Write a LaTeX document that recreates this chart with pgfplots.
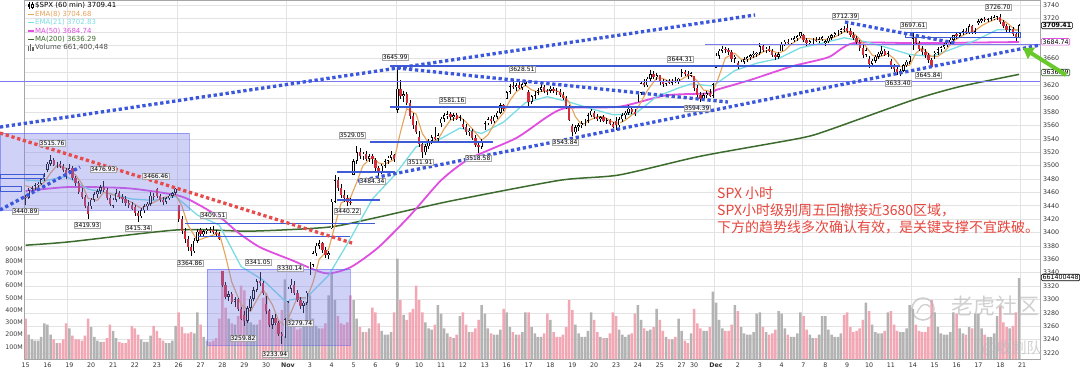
\documentclass[border=0pt]{standalone}
\usepackage{pgfplots}
\pgfplotsset{compat=1.18}
\usepackage{pgfplotstable}
\usepackage{fontspec}
\setmainfont{DejaVu Sans}
\newfontfamily\cjk{Noto Sans CJK SC}
\usetikzlibrary{arrows.meta}

\definecolor{trendblue}{HTML}{3B57DC}
\definecolor{lineblue}{HTML}{3F5BD6}
\definecolor{lavline}{HTML}{7B7BEF}
\definecolor{boxfill}{HTML}{7C80EA}
\definecolor{trendred}{HTML}{E84B4B}
\definecolor{candred}{HTML}{D22B3A}
\definecolor{volgray}{HTML}{B3B3B3}
\definecolor{volpink}{HTML}{F2A7B5}
\definecolor{emaA}{HTML}{E6A35A}
\definecolor{emaB}{HTML}{79DDE6}
\definecolor{maC}{HTML}{E04FE0}
\definecolor{maD}{HTML}{3C6B2E}
\definecolor{cnred}{HTML}{E6453C}
\definecolor{arrowgreen}{HTML}{67C92A}

\pgfplotstableread{
o h l c v
3453 3456 3440.89 3452 330
3452 3466 3450 3463 200
3463 3470 3459 3466 160
3466 3474 3464 3471 150
3471 3476 3467 3473 150
3473 3482 3471 3480 180
3480 3489 3477 3483.3 290
3493.5 3506 3490 3503 280
3503 3515.76 3500 3508 200
3508 3511 3499 3501 160
3501 3505 3496 3503 130
3503 3507 3497 3499 130
3499 3502 3490 3494 160
3494 3497 3480.45 3483.8 290
3493.7 3502.4 3488 3496 250
3496 3499 3478 3481 190
3481 3485 3470 3474 160
3474 3477 3458 3461 160
3461 3466 3450 3453 150
3453 3456 3436 3440 190
3440 3445 3419.93 3426.9 330
3439.4 3452 3435.65 3449 260
3449 3460 3446 3457 180
3457 3465 3452 3462 150
3462 3471 3458 3468 140
3468 3476.93 3460 3463 140
3463 3466 3448 3452 170
3452 3456 3440 3443.1 280
3439.9 3452 3436 3449 230
3449 3464.86 3446 3459 170
3459 3462 3450 3453 140
3453 3457 3444 3450 130
3450 3454 3440 3444 130
3444 3449 3437 3441 160
3441 3445 3433.06 3435.6 270
3438.5 3441 3425 3429 250
3429 3432 3415.34 3424 200
3424 3436 3421 3433 160
3433 3442 3429 3439 140
3439 3446 3434 3443 140
3443 3460.53 3440 3455 190
3455 3459 3448 3453.5 270
3464.9 3466.46 3452 3455 230
3455 3458 3445 3449 170
3449 3453 3440.45 3446 150
3446 3453 3443 3451 130
3451 3458 3448 3455 130
3455 3461 3452 3459 150
3459 3466 3456 3465.4 270
3441.4 3441.4 3416 3420 380
3420 3425 3398 3402 260
3402 3407 3385 3390 210
3390 3394 3372 3378 210
3378 3383 3364.86 3372 220
3372 3392 3369 3388 210
3388 3405 3385 3401 380
3403.2 3406 3393 3397 280
3397 3404 3394 3402 180
3402 3406 3397 3404 150
3404 3408 3399 3403 140
3403 3409.51 3398 3401 150
3401 3404 3393 3397 170
3397 3400 3388.71 3390.7 330
3342.5 3342.5 3318 3322 720
3322 3326 3300 3304 420
3304 3313 3298 3308 330
3308 3311 3293 3296 290
3296 3303 3288 3300 280
3300 3302 3282 3285 350
3285 3288 3268.89 3271 600
3277.2 3282 3259.82 3268 560
3268 3290 3264 3287 380
3287 3305 3283 3301 300
3301 3318 3297 3314 280
3314 3330 3311 3327 280
3327 3341.05 3320 3325 320
3325 3328 3306 3310.1 500
3293.6 3304.93 3278 3282 540
3282 3286 3258 3262 400
3262 3276 3255 3272 320
3272 3278 3262 3265 280
3265 3268 3245 3248 320
3248 3252 3233.94 3245 400
3245 3272 3242 3270 650
3296.2 3318 3294 3316 480
3316 3330.14 3310 3322 330
3322 3327 3306 3310 260
3310 3314 3296 3299 240
3299 3304 3285 3290 250
3290 3298 3279.74 3295 290
3295 3312 3292 3310.2 470
3336.3 3356 3336.25 3352 520
3352 3372 3349 3369 330
3369 3384 3365 3380 270
3380 3389.49 3376 3384 250
3384 3386 3370 3374 250
3374 3378 3362 3366 290
3366 3372 3360 3369.2 520
3406.5 3450 3405.17 3446 700
3446 3486.25 3444 3478 480
3478 3483 3462 3466 350
3466 3472 3452 3456 290
3456 3463 3446 3451 280
3451 3456 3440.22 3446 300
3446 3452 3441 3443.4 520
3485.8 3510 3485.74 3507 480
3507 3529.05 3503 3520 330
3520 3526 3510 3514 260
3514 3521 3508 3518 220
3518 3522 3507 3510 220
3510 3518 3505 3514 250
3514 3517 3503 3510.5 420
3508.3 3512 3492 3496 380
3496 3500 3484.34 3490 290
3490 3503 3488 3500 230
3500 3510 3497 3507 200
3507 3515 3503 3512 200
3512 3521.58 3508 3516 220
3516 3518 3505 3509.4 380
3583 3645.99 3578 3615 820
3615 3628 3600 3604 480
3604 3612 3595 3607 360
3607 3610 3590 3594 320
3594 3598 3570 3574 380
3574 3578 3555 3560 410
3560 3566 3547.48 3550.5 600
3543.3 3552 3528 3532 480
3532 3536 3511.91 3520 380
3520 3532 3516 3529 300
3529 3540 3525 3537 250
3537 3546 3532 3542 240
3542 3557.22 3538 3540 280
3540 3548 3536 3545.5 440
3563.2 3573 3557 3570 370
3570 3578 3565 3575 250
3575 3581.16 3570 3577 210
3577 3580 3568 3572 180
3572 3578 3567 3575 170
3575 3579 3568 3570 200
3570 3576 3566 3572.7 350
3562.7 3569.02 3555 3558 380
3558 3562 3546 3550 280
3550 3556 3544 3552 220
3552 3555 3538 3541 220
3541 3545 3528 3531 250
3531 3536 3518.58 3528 320
3528 3540 3525 3537 440
3552.6 3566 3552.57 3563 370
3563 3572 3560 3569 250
3569 3574 3562 3566 210
3566 3576 3563 3573 200
3573 3582 3570 3579 200
3579 3593.66 3577 3590 240
3590 3592 3582 3585.2 410
3600.2 3612 3600.16 3610 380
3610 3622 3607 3619 260
3619 3628.51 3614 3617 220
3617 3623 3612 3620 200
3620 3625 3614 3616 200
3616 3624 3613 3622 220
3622 3628 3619 3626.9 380
3610.3 3613 3588.68 3595 380
3595 3606 3592 3604 260
3604 3612 3600 3609 210
3609 3616 3605 3613 180
3613 3623.11 3610 3617 180
3617 3620 3608 3611 210
3611 3615 3605 3609.5 370
3612.1 3619.09 3608 3615 320
3615 3618 3609 3612 220
3612 3616 3606 3610 180
3610 3614 3603 3606 180
3606 3610 3598 3601 200
3601 3604 3584 3588 260
3588 3591 3567.33 3567.8 480
3559.4 3562 3543.84 3550 400
3550 3560 3547 3557 280
3557 3563 3552 3560 210
3560 3566 3556 3563 180
3563 3570 3559 3567 180
3567 3578 3564 3575 230
3575 3585.22 3572 3581.9 380
3579.3 3581.23 3570 3573 320
3573 3577 3566 3570 220
3570 3574 3565 3572 180
3572 3575 3565 3567 170
3567 3571 3562 3568 170
3568 3570 3560 3562 210
3562 3565 3556.85 3557.5 380
3566.8 3572 3552.77 3560 350
3560 3572 3557 3569 240
3569 3578 3565 3575 200
3575 3582 3570 3579 180
3579 3589.81 3576 3585 200
3585 3588 3577 3580 210
3580 3584 3574 3577.6 370
3594.6 3612 3594.52 3609 440
3609 3626 3606 3623 320
3623 3630 3617 3620 250
3620 3633 3618 3630 230
3630 3642.31 3627 3637 240
3637 3641 3629 3632 260
3632 3638 3628 3635.4 410
3635.5 3635.5 3621 3625 320
3625 3629 3617.76 3622 230
3622 3628 3619 3626 180
3626 3630 3622 3624 160
3624 3629 3620 3627 160
3627 3632 3623 3625 180
3625 3631 3622 3629.7 330
3638.6 3644.31 3632 3640 230
3640 3643 3634 3637 150
3637 3641 3629.33 3634 130
3634 3640 3632 3638.4 210
3634.2 3634.2 3612 3616 410
3616 3620 3602 3606 290
3606 3610 3594.39 3600 250
3600 3608 3597 3605 230
3605 3612 3601 3608 230
3608 3614 3602 3604 260
3604 3623 3601 3621.6 550
3645.9 3668 3645.87 3664 460
3664 3675 3660 3672 320
3672 3678.45 3668 3675 250
3675 3677 3669 3673 230
3673 3676 3665 3670 230
3670 3673 3655 3660 280
3660 3666 3654 3662.5 440
3653.8 3656 3644.84 3650 390
3650 3658 3647 3655 260
3655 3662 3652 3659 210
3659 3664 3655 3662 200
3662 3667 3658 3665 200
3665 3670.96 3661 3667 220
3667 3670 3663 3669 370
3668.3 3682.73 3666 3678 380
3678 3681 3670 3673 260
3673 3677 3668 3675 220
3675 3679 3670 3672 200
3672 3675 3662 3665 210
3665 3669 3657.17 3663 240
3663 3670 3660 3666.7 390
3671 3684 3670.94 3681 370
3681 3688 3678 3685 250
3685 3689 3680 3683 200
3683 3690 3680 3688 180
3688 3693 3684 3690 180
3690 3695 3686 3693 210
3693 3699.2 3691 3699.1 380
3694.7 3697.41 3684 3687 350
3687 3690 3678.88 3683 240
3683 3688 3680 3686 200
3686 3690 3682 3688 170
3688 3692 3684 3687 170
3687 3692 3683 3689 200
3689 3694 3686 3692 350
3683.1 3688 3678.83 3686 350
3686 3693 3683 3691 240
3691 3697 3688 3695 200
3695 3700 3692 3698 180
3698 3703 3694 3700 180
3700 3706 3697 3704 210
3704 3708.45 3699 3702.3 360
3706 3712.39 3698 3701 380
3701 3705 3692 3695 260
3695 3699 3687 3690 220
3690 3694 3680 3684 230
3684 3688 3672 3676 250
3676 3680 3660.54 3666 320
3666 3676 3662 3672.8 460
3659.1 3664 3645.18 3652 390
3652 3660 3649 3657 280
3657 3665 3654 3663 220
3663 3670 3660 3667 210
3667 3678.49 3664 3672 210
3672 3675 3664 3666 230
3666 3671 3662 3668.1 380
3656.1 3659 3645 3648 390
3648 3652 3640 3644 280
3644 3648 3636 3640 230
3640 3645 3633.4 3642 220
3642 3652 3640 3650 220
3650 3658 3647 3655 250
3655 3665.91 3652 3663.5 440
3675.3 3697.61 3673 3690 410
3690 3694 3680 3683 280
3683 3686 3672 3675 230
3675 3679 3666 3670 220
3670 3674 3661 3665 220
3665 3668 3654 3658 260
3658 3661 3645.84 3647.5 480
3666.4 3672 3659.62 3669 380
3669 3677 3666 3674 260
3674 3679 3670 3677 210
3677 3683 3674 3680 200
3680 3686 3677 3684 200
3684 3690 3681 3688 220
3688 3695.29 3686 3694.6 380
3696.3 3700 3688.57 3694 370
3694 3700 3691 3698 250
3698 3704 3695 3701 210
3701 3705 3697 3699 200
3699 3711.27 3697 3708 260
3708 3710 3697 3700 250
3700 3705 3697 3701.2 370
3713.7 3719 3710.87 3716 370
3716 3721 3713 3719 250
3719 3722 3715 3717 200
3717 3721 3714 3719 180
3719 3723 3716 3720 180
3720 3725.12 3717 3722 210
3722 3724 3718 3722.5 350
3722.4 3726.7 3712 3715 430
3715 3718 3705 3708 300
3708 3712 3700 3703 260
3703 3708 3698 3704 250
3704 3707 3694 3697 270
3697 3700 3685.84 3692 380
3692 3712 3690 3709.41 661
}\candles

\pgfplotsset{base/.style={at={(24pt,13pt)}, anchor=south west, scale only axis,
  width=1016pt, height=359pt, xmin=-0.5, xmax=324.7}}

\tikzset{lbl/.style={font=\fontsize{6}{6}\selectfont, fill=white, fill opacity=0.8,
  text opacity=1, draw=black!35, line width=0.3pt, inner sep=0.8pt},
  tag/.style={anchor=west, fill=white, line width=0.6pt, inner xsep=1.2pt,
  inner ysep=0.9pt, rounded corners=1.2pt, font=\fontsize{6.3}{7}\selectfont}}

\begin{document}
\begin{tikzpicture}
\useasboundingbox (0pt,0pt) rectangle (1080pt,372pt);
\clip (0pt,0pt) rectangle (1080pt,372pt);
\fill[white] (0pt,0pt) rectangle (1080pt,372pt);

% grid-only axis
\begin{axis}[base, ymin=3210.9, ymax=3747.5, axis line style={draw=none},
  tick style={draw=none},
  xtick={13.5,48.5,83.5,118.5,153.5,188.5,220.5,248.5,283.5,318.5},
  ytick={3220,3240,...,3740}, xticklabels={}, yticklabels={},
  xmajorgrids, ymajorgrids, grid style={color=black!11, line width=0.5pt}]
\addplot[draw=none] coordinates {(0,3500)};
\end{axis}

% volume axis
\begin{axis}[base, ymin=0, ymax=2931, axis line style={draw=none}, xtick=\empty,
  ytick={100,200,...,900},
  yticklabels={100M,200M,300M,400M,500M,600M,700M,800M,900M},
  tick style={draw=none},
  yticklabel style={font=\fontsize{6.3}{7}\selectfont, text=black!75, anchor=east,
    inner sep=0pt, xshift=-1pt}]
\addplot[ybar, bar width=2.5pt, bar shift=0pt, fill=volgray, draw=none,
  restrict expr to domain={\thisrow{c}-\thisrow{o}}{0:10000}]
  table[x expr=\coordindex, y=v]{\candles};
\addplot[ybar, bar width=2.5pt, bar shift=0pt, fill=volpink, draw=none,
  restrict expr to domain={\thisrow{c}-\thisrow{o}}{-10000:-0.0001}]
  table[x expr=\coordindex, y=v]{\candles};
\end{axis}

% price axis
\begin{axis}[base, ymin=3210.9, ymax=3747.5, clip=false,
  axis line style={draw=black!35, line width=0.5pt},
  tick style={draw=none},
  ytick={3220,3240,3260,3280,3300,3320,3340,3360,3380,3400,3420,3440,3460,3480,3500,3520,3540,3560,3580,3600,3620,3660,3720,3740},
  yticklabel pos=right,
  /pgf/number format/assume math mode=true,
  /pgf/number format/1000 sep={},
  yticklabel style={font=\fontsize{6.3}{7}\selectfont, text=black!80, anchor=west,
    inner sep=0pt, xshift=3pt},
  xtick={0,7,14,21,28,35,42,49,56,63,70,77,84,91,98,105,112,119,126,133,140,147,154,161,168,175,182,189,196,203,210,214,221,228,235,242,249,256,263,270,277,284,291,298,305,312,319},
  xticklabels={15,16,19,20,21,22,23,26,27,28,29,30,\textbf{Nov},3,4,5,6,9,10,11,12,13,16,17,18,19,20,23,24,25,27,30,\textbf{Dec},2,3,4,7,8,9,10,11,14,15,16,17,18,21},
  xticklabel style={font=\fontsize{6.3}{7}\selectfont, text=black!80, anchor=north,
    inner sep=0pt, yshift=-3.5pt}]

% moving averages
\addplot[maD, line width=1.5pt, smooth, tension=0.4] coordinates {(0,3381)(14,3386)(49,3404)(72,3402)(97,3408)(112,3422)(136,3447)(171,3478)(190,3486)(216,3514)(248,3541)(257,3553)(284,3598)(299,3618)(318,3636.3)};
\addplot[maC, line width=1.8pt, smooth, tension=0.4] coordinates {(0,3462)(14,3468)(33,3466)(49,3455)(56,3440)(63,3420)(68,3400)(75,3378)(85,3359)(96,3339)(104,3348)(113,3378)(123,3425)(133,3478)(142,3510)(157,3541)(167,3573)(173,3586)(190,3588)(205,3605)(219,3608)(221,3613)(232,3628)(245,3648)(257,3662)(265,3683)(286,3683)(318,3684.7)};
\addplot[emaB, line width=1.3pt] coordinates {(0,3478)(6,3477)(13,3484)(20,3465)(27,3458)(34,3450)(41,3448)(48,3454)(55,3426)(62,3411)(69,3349)(76,3329)(83,3298)(90,3303)(97,3336)(104,3391)(111,3450)(118,3485)(125,3528)(132,3538)(139,3556)(146,3548)(153,3565)(160,3594)(167,3603)(174,3595)(181,3585)(188,3576)(195,3577)(202,3603)(209,3616)(213,3622)(220,3619)(227,3642)(234,3653)(241,3660)(248,3676)(255,3683)(262,3691)(269,3685)(276,3676)(283,3666)(290,3663)(297,3675)(304,3687)(311,3703)(318,3702.8)};
\addplot[emaA, line width=1.1pt] coordinates {(0,3470)(3,3465)(6,3475)(8,3489)(10,3500)(13,3496)(16,3486)(18,3473)(20,3451)(23,3448)(25,3460)(27,3458)(30,3453)(34,3445)(37,3436)(41,3445)(44,3452)(48,3456)(50,3440)(52,3411)(55,3388)(58,3393)(62,3399)(64,3365)(66,3326)(69,3292)(72,3282)(74,3299)(76,3315)(79,3292)(81,3268)(83,3261)(85,3281)(87,3303)(90,3302)(92,3325)(94,3360)(97,3375)(99,3410)(101,3444)(104,3452)(106,3475)(108,3500)(111,3513)(113,3504)(115,3502)(118,3509)(120,3550)(122,3585)(125,3577)(127,3548)(129,3534)(132,3539)(134,3555)(136,3568)(139,3573)(141,3565)(143,3555)(146,3538)(148,3546)(150,3562)(153,3579)(155,3597)(157,3610)(160,3620)(162,3613)(164,3610)(167,3612)(169,3613)(171,3610)(174,3595)(176,3573)(178,3561)(181,3569)(183,3573)(185,3573)(188,3565)(190,3563)(192,3568)(195,3579)(197,3595)(199,3612)(202,3631)(204,3630)(206,3626)(209,3626)(211,3632)(213,3636)(215,3626)(217,3613)(220,3610)(222,3634)(224,3661)(227,3668)(229,3659)(231,3658)(234,3664)(236,3670)(238,3673)(241,3668)(243,3672)(245,3681)(248,3691)(250,3690)(252,3689)(255,3688)(257,3689)(259,3692)(262,3700)(264,3700)(266,3694)(269,3678)(271,3665)(273,3662)(276,3667)(278,3660)(280,3648)(283,3650)(285,3668)(287,3676)(290,3663)(292,3663)(294,3670)(297,3686)(299,3692)(301,3697)(304,3702)(306,3709)(308,3714)(311,3720)(313,3717)(315,3710)(317,3702)(318,3704.7)};

% candles: wicks
\addplot[draw=none, mark=none, error bars/.cd, y dir=plus, y explicit, error mark=none,
  error bar style={draw=black, line width=0.55pt}]
  table[x expr=\coordindex, y=l, y error plus expr=\thisrow{h}-\thisrow{l}]{\candles};
% up bodies (hollow)
\addplot[draw=none, mark=none, restrict expr to domain={\thisrow{c}-\thisrow{o}}{0:10000},
  error bars/.cd, y dir=plus, y explicit, error mark=none,
  error bar style={draw=black, line width=2.3pt}]
  table[x expr=\coordindex, y=o, y error plus expr={max(\thisrow{c}-\thisrow{o},1.2)}]{\candles};
\addplot[draw=none, mark=none, restrict expr to domain={\thisrow{c}-\thisrow{o}}{0:10000},
  error bars/.cd, y dir=plus, y explicit, error mark=none,
  error bar style={draw=white, line width=1.1pt}]
  table[x expr=\coordindex, y expr=\thisrow{o}+0.9, y error plus expr={max(\thisrow{c}-\thisrow{o}-1.8,0)}]{\candles};
% down bodies
\addplot[draw=none, mark=none, restrict expr to domain={\thisrow{c}-\thisrow{o}}{-10000:-0.0001},
  error bars/.cd, y dir=plus, y explicit, error mark=none,
  error bar style={draw=candred, line width=2.3pt}]
  table[x expr=\coordindex, y=c, y error plus expr={max(\thisrow{o}-\thisrow{c},1.2)}]{\candles};

% shaded boxes
\fill[boxfill, fill opacity=0.36] (axis cs:-8.2,3548.7) rectangle (axis cs:52.3,3433.6);
\draw[boxfill!70!blue, opacity=0.5, line width=0.6pt] (axis cs:-8.2,3548.7) rectangle (axis cs:52.3,3433.6);
\fill[boxfill, fill opacity=0.36] (axis cs:58.1,3345.4) rectangle (axis cs:103.8,3231.8);
\draw[boxfill!70!blue, opacity=0.5, line width=0.6pt] (axis cs:58.1,3345.4) rectangle (axis cs:103.8,3231.8);

% horizontal support/resistance lines
\draw[lavline, line width=1pt] (axis cs:-8.2,3626.4) -- (axis cs:324.7,3626.4);
\draw[lineblue, line width=1.8pt] (axis cs:116.6,3648.8) -- (axis cs:279.9,3648.8);
\draw[lineblue, line width=1.2pt] (axis cs:116.6,3587.5) -- (axis cs:219.1,3587.5);
\draw[lineblue, line width=1.2pt] (axis cs:110.2,3535.2) -- (axis cs:149.6,3535.2);
\draw[lineblue, line width=1.2pt] (axis cs:99.7,3490.4) -- (axis cs:118.2,3490.4);
\draw[lineblue, line width=1.2pt] (axis cs:99.7,3448.5) -- (axis cs:113.4,3448.5);
\draw[lineblue, line width=1pt] (axis cs:51,3414.1) -- (axis cs:111.8,3414.1);
\draw[lineblue, line width=1pt] (axis cs:55.2,3394.7) -- (axis cs:103.8,3394.7);
\draw[lineblue, line width=0.8pt] (axis cs:-8.2,3487.4) rectangle (axis cs:5.6,3481.4);
\draw[lineblue, line width=0.8pt] (axis cs:-8.2,3469.4) rectangle (axis cs:-1.2,3462.0);
\draw[lavline, line width=1pt] (axis cs:217.5,3681.7) -- (axis cs:324.7,3681.7);
\draw[lineblue, line width=0.8pt] (axis cs:281.5,3699.6) rectangle (axis cs:318.3,3692.2);

% trend lines
\draw[trendblue, line width=3.3pt, dash pattern=on 3.3pt off 2.7pt] (axis cs:-8.2,3557.6) -- (axis cs:233.5,3725.1);
\draw[trendblue, line width=3.3pt, dash pattern=on 3.3pt off 2.7pt] (axis cs:-8.2,3433.6) -- (axis cs:17.4,3497.8);
\draw[trendblue, line width=3.3pt, dash pattern=on 3.3pt off 2.7pt] (axis cs:106.4,3476.9) -- (axis cs:324.7,3680.2);
\draw[trendblue, line width=3.3pt, dash pattern=on 3.3pt off 2.7pt] (axis cs:118.9,3645.8) -- (axis cs:224.8,3595);
\draw[trendblue, line width=3.3pt, dash pattern=on 3.3pt off 2.7pt] (axis cs:262.3,3714.6) -- (axis cs:297.5,3683.2);
\draw[trendred, line width=3.3pt, dash pattern=on 3.3pt off 2.7pt] (axis cs:-8.2,3548.7) -- (axis cs:104.5,3384.2);

% price labels
\node[lbl] at (axis cs:8.5,3533.7) {3515.76};
\node[lbl] at (axis cs:-0.2,3432.1) {3440.89};
\node[lbl] at (axis cs:24.8,3494.9) {3476.93};
\node[lbl] at (axis cs:19.7,3411.2) {3419.93};
\node[lbl] at (axis cs:36,3406.7) {3415.34};
\node[lbl] at (axis cs:41.7,3484.4) {3466.46};
\node[lbl] at (axis cs:60,3426.1) {3409.51};
\node[lbl] at (axis cs:52.6,3354.3) {3364.86};
\node[lbl] at (axis cs:74.4,3355.8) {3341.05};
\node[lbl] at (axis cs:84.6,3346.9) {3330.14};
\node[lbl] at (axis cs:87.8,3264.7) {3279.74};
\node[lbl] at (axis cs:69.6,3242.2) {3259.82};
\node[lbl] at (axis cs:79.8,3218.3) {3233.94};
\node[lbl] at (axis cs:102.9,3432.1) {3440.22};
\node[lbl] at (axis cs:110.9,3476.9) {3484.34};
\node[lbl] at (axis cs:104.5,3545.7) {3529.05};
\node[lbl] at (axis cs:118.3,3662.3) {3645.99};
\node[lbl] at (axis cs:158.9,3644.3) {3628.51};
\node[lbl] at (axis cs:136.5,3598) {3581.16};
\node[lbl] at (axis cs:126.3,3505.3) {3511.91};
\node[lbl] at (axis cs:144.8,3511.3) {3518.58};
\node[lbl] at (axis cs:172.7,3535.2) {3543.84};
\node[lbl] at (axis cs:209.5,3659.3) {3644.31};
\node[lbl] at (axis cs:214.9,3586) {3594.39};
\node[lbl] at (axis cs:262.3,3723.6) {3712.39};
\node[lbl] at (axis cs:284.1,3710.1) {3697.61};
\node[lbl] at (axis cs:279.3,3623.4) {3633.40};
\node[lbl] at (axis cs:288.9,3635.4) {3645.84};
\node[lbl] at (axis cs:311.3,3737) {3726.70};
\end{axis}

% annotations in pixel coordinates
\begin{scope}[x=1pt, y=-1pt, shift={(0pt,372pt)}]
  % legend
  \draw[black, line width=0.5pt] (29.3,2) -- (29.3,9.5);
  \fill[black] (28.3,3.8) rectangle (30.3,7.5);
  \draw[black, line width=0.5pt] (32.5,2.5) -- (32.5,9);
  \draw[black, line width=0.4pt, fill=white] (31.6,4.2) rectangle (33.4,7.2);
  \node[anchor=west, inner sep=0pt, font=\fontsize{7}{8}\selectfont] at (35,5.6) {\$SPX (60 min) 3709.41};
  \draw[emaA, line width=1.3pt] (28,14.3) -- (34,14.3);
  \node[anchor=west, inner sep=0pt, text=emaA, font=\fontsize{7}{8}\selectfont] at (35,14.3) {EMA(8) 3704.68};
  \draw[emaB, line width=1.3pt] (28,22.7) -- (34,22.7);
  \node[anchor=west, inner sep=0pt, text=emaB, font=\fontsize{7}{8}\selectfont] at (35,22.7) {EMA(21) 3702.83};
  \draw[maC, line width=1.3pt] (28,31) -- (34,31);
  \node[anchor=west, inner sep=0pt, text=maC, font=\fontsize{7}{8}\selectfont] at (35,31) {MA(50) 3684.74};
  \draw[maD, line width=1.3pt] (28,39.3) -- (34,39.3);
  \node[anchor=west, inner sep=0pt, text=maD, font=\fontsize{7}{8}\selectfont] at (35,39.3) {MA(200) 3636.29};
  \fill[black!60] (28,51) rectangle (29.2,46);
  \fill[black!60] (30.2,51) rectangle (31.4,44);
  \fill[black!60] (32.4,51) rectangle (33.6,47.5);
  \node[anchor=west, inner sep=0pt, text=black!70, font=\fontsize{7}{8}\selectfont] at (35,47.7) {Volume 661,400,448};

  % right-axis value tags
  \node[tag, draw=black, font=\bfseries\fontsize{6.3}{7}\selectfont] at (1041,25.5) {3709.41};
  \node[tag, draw=maC] at (1041,41.8) {3684.74};
  \node[tag, draw=maD] at (1041,72.5) {3636.29};
  \node[tag, draw=black] at (1041,277.5) {661400448};

  % green arrow
  \draw[arrowgreen, line width=4pt, -{Triangle[length=10pt,width=13pt]}] (1066,75) -- (1023,48);

  % Chinese commentary
  \node[anchor=west, inner sep=0pt, text=cnred, font=\cjk\fontsize{14}{16}\selectfont] at (717,193.5) {SPX 小时};
  \node[anchor=west, inner sep=0pt, text=cnred, font=\cjk\fontsize{14}{16}\selectfont] at (717,210.5) {SPX小时级别周五回撤接近3680区域，};
  \node[anchor=west, inner sep=0pt, text=cnred, font=\cjk\fontsize{14}{16}\selectfont] at (717,227.5) {下方的趋势线多次确认有效，是关键支撑不宜跌破。};

  % watermark
  \draw[black!30, opacity=0.6, line width=1.6pt] (923,309) circle (11);
  \draw[black!30, opacity=0.6, line width=1.4pt] (917,313) .. controls (921,303) and (927,303) .. (930,307);
  \node[inner sep=0pt, text=black!28, opacity=0.65, font=\cjk\fontsize{22}{24}\selectfont] at (995,306) {老虎社区};
  \node[inner sep=0pt, text=black!28, opacity=0.65, font=\cjk\fontsize{15}{17}\selectfont] at (1012,348) {@收割队};
\end{scope}
\end{tikzpicture}
\end{document}
